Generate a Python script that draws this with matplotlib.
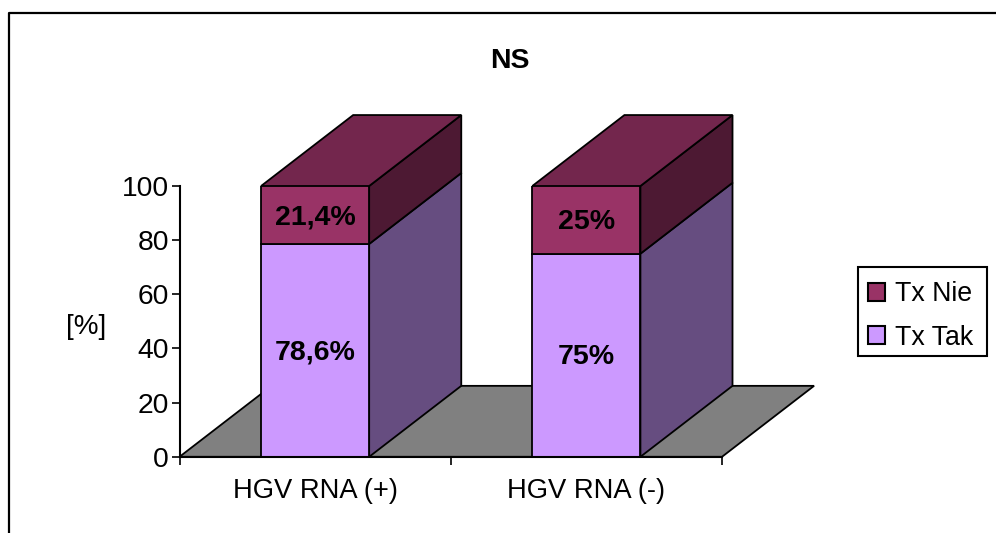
import matplotlib
matplotlib.use("Agg")
import matplotlib.pyplot as plt
from matplotlib.patches import Polygon, Patch, Rectangle
from matplotlib.lines import Line2D

plt.rcParams['font.family'] = ['Liberation Sans', 'DejaVu Sans']

categories = ["HGV RNA (+)", "HGV RNA (-)"]
tx_tak = [78.6, 75]
tx_nie = [21.4, 25]
labels_tak = ["78,6%", "75%"]
labels_nie = ["21,4%", "25%"]
yticks = [0, 20, 40, 60, 80, 100]
title = "NS"
ylabel = "[%]"

W, H = 996, 533
fig = plt.figure(figsize=(W / 100, H / 100), dpi=100, facecolor="white")
L, R, T, B = 179.5, 722, 186, 456.8
ax = fig.add_axes([L / W, 1 - B / H, (R - L) / W, (B - T) / H])
ax.set_xlim(0, 2)
ax.set_ylim(0, 100)
ax.patch.set_alpha(0)

# depth of the 3-D box in data units
DX = 92 / 271
DY = 71 / 271 * 100
BW = 108 / 271
EC = "black"
LW = 1.3

C_TAK, C_TAK_S = "#CC99FF", "#664D80"
C_NIE, C_NIE_S, C_NIE_T = "#993366", "#4D1933", "#73264D"

# floor
ax.add_patch(Polygon([(0, 0), (DX, DY), (2 + DX, DY), (2, 0)], closed=True,
                     facecolor="#808080", edgecolor=EC, lw=LW, clip_on=False, zorder=1))

def value_label(x, y, s):
    ax.annotate(s, (x, y), xytext=(0, -1.5), textcoords="offset points",
                ha="center", va="center", fontsize=20.5, fontweight="bold",
                color="black", zorder=5)

for i, (a, b) in enumerate(zip(tx_tak, tx_nie)):
    x = i + 0.5
    xr = x + BW / 2
    xl = x - BW / 2
    ax.bar(x, a, BW, color=C_TAK, edgecolor=EC, lw=LW, zorder=3)
    ax.bar(x, b, BW, bottom=a, color=C_NIE, edgecolor=EC, lw=LW, zorder=3)
    ax.add_patch(Polygon([(xr, 0), (xr + DX, DY), (xr + DX, a + DY), (xr, a)], closed=True,
                         facecolor=C_TAK_S, edgecolor=EC, lw=LW, clip_on=False, zorder=2))
    top = a + b
    ax.add_patch(Polygon([(xr, a), (xr + DX, a + DY), (xr + DX, top + DY), (xr, top)], closed=True,
                         facecolor=C_NIE_S, edgecolor=EC, lw=LW, clip_on=False, zorder=2))
    ax.add_patch(Polygon([(xl, top), (xl + DX, top + DY), (xr + DX, top + DY), (xr, top)], closed=True,
                         facecolor=C_NIE_T, edgecolor=EC, lw=LW, clip_on=False, zorder=2))
    value_label(x, a / 2, labels_tak[i])
    value_label(x, a + b / 2, labels_nie[i])

for s in ("top", "right"):
    ax.spines[s].set_visible(False)
for s in ("left", "bottom"):
    ax.spines[s].set_linewidth(1.5)
    ax.spines[s].set_zorder(4)

ax.set_yticks(yticks)
ax.set_yticklabels([str(v) for v in yticks], fontsize=20.3)
ax.set_xticks([0, 1, 2])
ax.set_xticklabels([])
ax.set_xticks([0.5, 1.5], minor=True)
ax.set_xticklabels(categories, minor=True, fontsize=19.7)
ax.tick_params(axis="x", which="minor", length=0, pad=15)
ax.tick_params(axis="x", which="major", length=6, width=1.2, direction="out")
ax.tick_params(axis="y", length=6, width=1.2, pad=1.5)

fig.text(510 / W, 1 - 61 / H, title, ha="center", va="center", fontsize=20.5, fontweight="bold")
fig.text(86 / W, 1 - 327 / H, ylabel, ha="center", va="center", fontsize=20)

# outer chart frame
fig.add_artist(Line2D([9 / W, 9 / W, 1], [0, 1 - 13 / H, 1 - 13 / H], color="black", lw=1.6,
                      transform=fig.transFigure))

# legend box and legend
fig.add_artist(Rectangle((858 / W, 1 - 356 / H), 129 / W, 89 / H, facecolor="white",
                         edgecolor="black", lw=1.5, transform=fig.transFigure, zorder=1))
handles = [Patch(facecolor=C_NIE, edgecolor=EC, lw=1.5, label="Tx Nie"),
           Patch(facecolor=C_TAK, edgecolor=EC, lw=1.5, label="Tx Tak")]
leg = fig.legend(handles=handles, loc="upper left",
                 bbox_to_anchor=(856 / W, 1 - 269 / H), borderaxespad=0,
                 fontsize=19.3, frameon=False,
                 handlelength=0.64, handleheight=0.64, handletextpad=0.34,
                 borderpad=0.46, labelspacing=0.65)
leg.set_zorder(2)

fig.savefig("out.png", dpi=100)
